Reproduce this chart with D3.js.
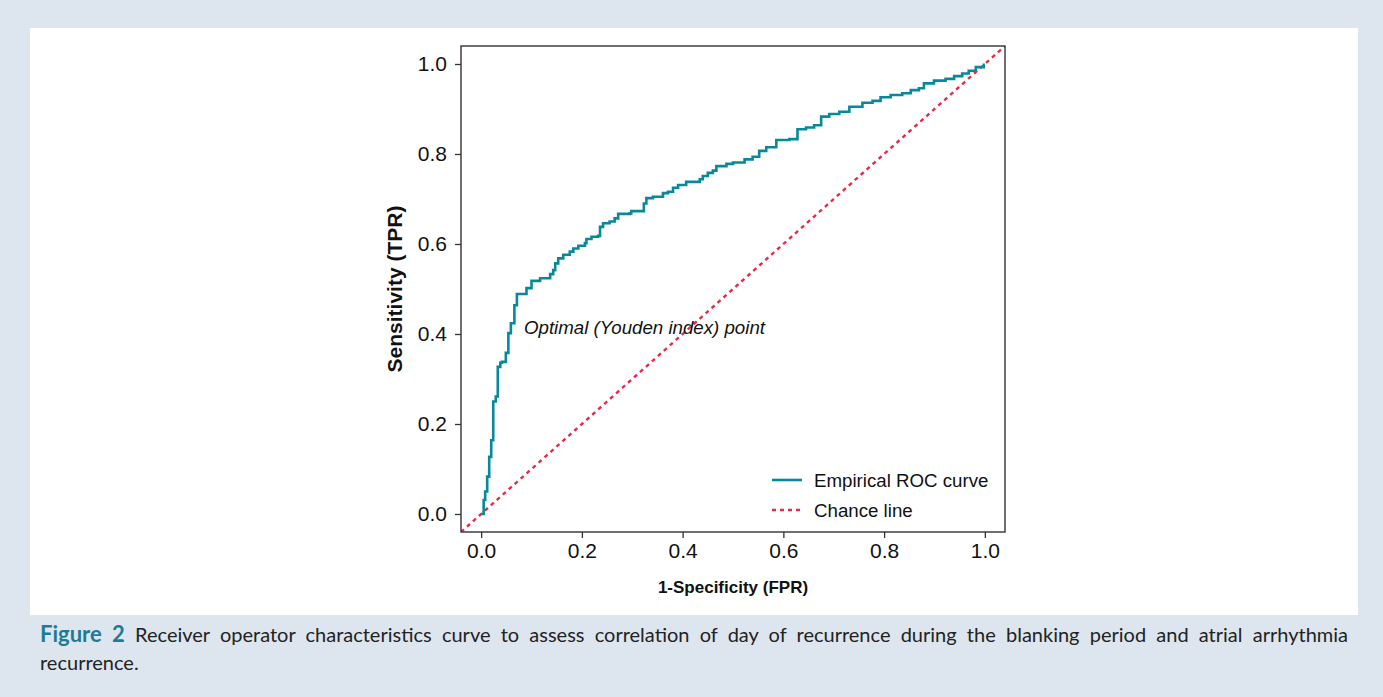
<!DOCTYPE html>
<html>
<head>
<meta charset="utf-8">
<script src="https://cdn.jsdelivr.net/npm/d3@7"></script>
<style>
  body { margin: 0; background: #dde6ef; font-family: "Liberation Sans", Arial, sans-serif; }
  #page { position: relative; width: 1383px; height: 697px; }
  #panel { position: absolute; left: 30px; top: 28px; width: 1328px; height: 587px; background: #fff; }
  #chart { position: absolute; left: 0; top: 0; }
  .cap { position: absolute; left: 40px; width: 1308px; font-family: Lato, "Open Sans", sans-serif;
         font-size: 20px; line-height: 29px; color: #222; white-space: nowrap; }
  #cap1 { top: 619px; text-align: justify; text-align-last: justify; white-space: normal; }
  #cap2 { top: 648px; }
  .cap b { color: #1d7b96; font-size: 22px; }
</style>
</head>
<body>
<div id="page">
  <div id="panel"></div>
  <div id="chart"></div>
  <div class="cap" id="cap1"><b>Figure 2</b> Receiver operator characteristics curve to assess correlation of day of recurrence during the blanking period and atrial arrhythmia</div>
  <div class="cap" id="cap2">recurrence.</div>
</div>
<script>
// ROC curve corner points
let fpr = [0.000, 0.005, 0.008, 0.012, 0.016, 0.020, 0.024, 0.029, 0.033, 0.038,
           0.041, 0.049, 0.054, 0.059, 0.066, 0.071, 0.090, 0.100, 0.117, 0.137,
           0.143, 0.147, 0.153, 0.163, 0.176, 0.183, 0.193, 0.206, 0.209, 0.219,
           0.232, 0.236, 0.242, 0.255, 0.265, 0.272, 0.295, 0.298, 0.323, 0.328,
           0.341, 0.361, 0.371, 0.381, 0.391, 0.407, 0.434, 0.440, 0.450, 0.460,
           0.467, 0.487, 0.500, 0.523, 0.539, 0.552, 0.566, 0.586, 0.612, 0.628,
           0.645, 0.661, 0.675, 0.691, 0.711, 0.731, 0.757, 0.777, 0.793, 0.813,
           0.836, 0.853, 0.869, 0.879, 0.899, 0.922, 0.939, 0.955, 0.968, 0.982,
           0.998, 1.000];
let tpr = [0.000, 0.031, 0.050, 0.083, 0.127, 0.164, 0.250, 0.261, 0.327, 0.336,
           0.338, 0.358, 0.402, 0.424, 0.464, 0.489, 0.502, 0.518, 0.524, 0.533,
           0.542, 0.557, 0.568, 0.576, 0.583, 0.590, 0.596, 0.602, 0.611, 0.616,
           0.618, 0.638, 0.646, 0.650, 0.657, 0.667, 0.668, 0.673, 0.690, 0.702,
           0.705, 0.713, 0.716, 0.725, 0.731, 0.738, 0.744, 0.751, 0.758, 0.763,
           0.773, 0.778, 0.781, 0.788, 0.794, 0.807, 0.815, 0.831, 0.833, 0.855,
           0.859, 0.864, 0.883, 0.889, 0.894, 0.905, 0.914, 0.918, 0.926, 0.931,
           0.935, 0.942, 0.946, 0.957, 0.963, 0.967, 0.973, 0.979, 0.985, 0.993,
           0.998, 0.998];
let axisTicks = [0, 0.2, 0.4, 0.6, 0.8, 1.0];
let chanceLine = [-0.04, 1.04];
let legendItems = ["Empirical ROC curve", "Chance line"];

let rocColor = "#08899a",
    chanceColor = "#e8294a";

let box = {left: 461, top: 46, right: 1005, bottom: 532};

let svg = d3.select("#chart")
    .append("svg")
    .attr("width", 1383)
    .attr("height", 615);

let x = d3.scaleLinear()
    .domain([-0.04, 1.04])
    .range([box.left, box.right]);

let y = d3.scaleLinear()
    .domain([-0.04, 1.04])
    .range([box.bottom, box.top]);

let xAxis = svg.append("g")
    .attr("transform", "translate(0," + box.bottom + ")")
    .call(d3.axisBottom(x).tickValues(axisTicks).tickFormat(d3.format(".1f")).tickSize(6).tickPadding(5));

let yAxis = svg.append("g")
    .attr("transform", "translate(" + box.left + ",0)")
    .call(d3.axisLeft(y).tickValues(axisTicks).tickFormat(d3.format(".1f")).tickSize(6).tickPadding(8));

[xAxis, yAxis].forEach(function(a) {
    a.select(".domain").remove();
    a.selectAll("line").attr("stroke", "#333").attr("stroke-width", 1.3);
    a.selectAll("text")
        .attr("fill", "#111")
        .style("font-family", "'Liberation Sans', Arial, sans-serif")
        .style("font-size", "21px");
});

// chance line (clipped to plot box)
svg.append("defs").append("clipPath")
    .attr("id", "plotArea")
    .append("rect")
    .attr("x", box.left)
    .attr("y", box.top)
    .attr("width", box.right - box.left)
    .attr("height", box.bottom - box.top);

svg.append("line")
    .attr("clip-path", "url(#plotArea)")
    .attr("x1", x(chanceLine[0]))
    .attr("y1", y(chanceLine[0]))
    .attr("x2", x(chanceLine[1]))
    .attr("y2", y(chanceLine[1]))
    .attr("stroke", chanceColor)
    .attr("stroke-width", 2.4)
    .attr("stroke-dasharray", "4,4");

let rocData = fpr.map(function(d, i) { return [d, tpr[i]]; });

let rocLine = d3.line()
    .x(function(d) { return x(d[0]); })
    .y(function(d) { return y(d[1]); })
    .curve(d3.curveStepAfter);

svg.append("path")
    .datum(rocData)
    .attr("d", rocLine)
    .attr("fill", "none")
    .attr("stroke", rocColor)
    .attr("stroke-width", 2.6);

// frame
svg.append("rect")
    .attr("x", box.left)
    .attr("y", box.top)
    .attr("width", box.right - box.left)
    .attr("height", box.bottom - box.top)
    .attr("fill", "none")
    .attr("stroke", "#333")
    .attr("stroke-width", 1.4);

svg.append("text")
    .attr("x", 524)
    .attr("y", 334)
    .attr("font-style", "italic")
    .attr("font-size", 18.7)
    .attr("fill", "#111")
    .text("Optimal (Youden index) point");

// legend
let legend = svg.append("g").attr("transform", "translate(772,480)");
legendItems.forEach(function(name, i) {
    legend.append("line")
        .attr("x1", 0).attr("x2", 30)
        .attr("y1", i * 30).attr("y2", i * 30)
        .attr("stroke", i == 0 ? rocColor : chanceColor)
        .attr("stroke-width", i == 0 ? 2.6 : 2.4)
        .attr("stroke-dasharray", i == 0 ? null : "4,4");
    legend.append("text")
        .attr("x", 42)
        .attr("y", i * 30)
        .attr("dy", "0.35em")
        .attr("font-size", 18.7)
        .attr("fill", "#111")
        .text(name);
});

// axis titles
svg.append("text")
    .attr("x", 733)
    .attr("y", 593)
    .attr("text-anchor", "middle")
    .attr("font-weight", "bold")
    .attr("font-size", 17)
    .attr("fill", "#111")
    .text("1-Specificity (FPR)");

svg.append("text")
    .attr("transform", "translate(402,289) rotate(-90)")
    .attr("text-anchor", "middle")
    .attr("font-weight", "bold")
    .attr("font-size", 21)
    .attr("fill", "#111")
    .text("Sensitivity (TPR)");
</script>
</body>
</html>
